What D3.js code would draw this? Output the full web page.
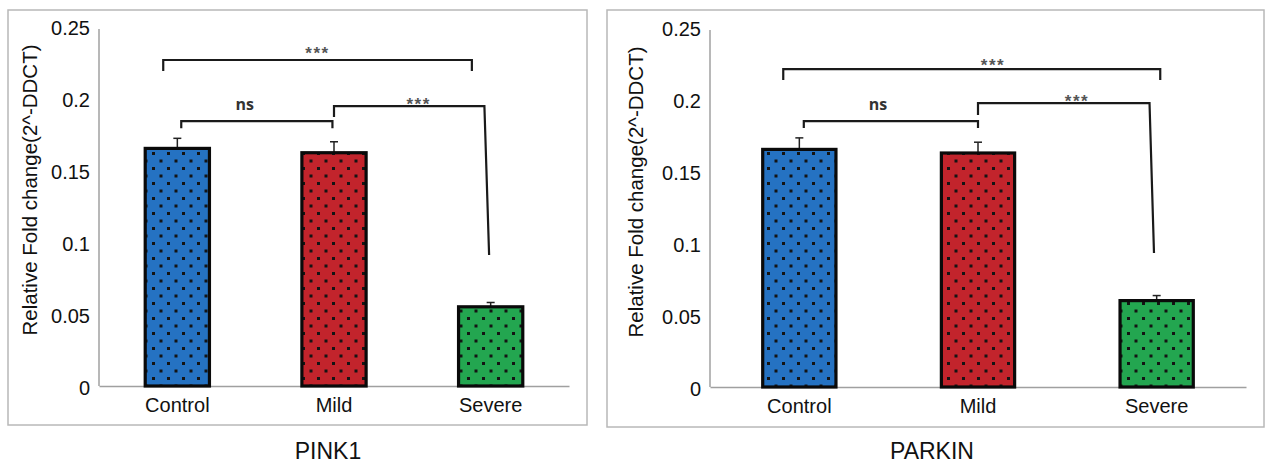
<!DOCTYPE html>
<html>
<head>
<meta charset="utf-8">
<script src="https://cdn.jsdelivr.net/npm/d3@7/dist/d3.min.js"></script>
<style>
  html, body { margin: 0; padding: 0; background: #fff; }
  svg { display: block; font-family: "Liberation Sans", Arial, sans-serif; }
  .tick text { font-size: 20px; font-family: "Liberation Sans", Arial, sans-serif; fill: #111; }
</style>
</head>
<body>
<svg id="chart" width="1266" height="465"></svg>
<script>
// ---- data ----
const categories = ["Control", "Mild", "Severe"];
const tickValues = [0, 0.05, 0.1, 0.15, 0.2, 0.25];
const tickLabels = ["0", "0.05", "0.1", "0.15", "0.2", "0.25"];

const pink1Means = [0.165, 0.162, 0.055];
const pink1Errors = [0.007, 0.0076, 0.003];
const parkinMeans = [0.165, 0.1625, 0.060];
const parkinErrors = [0.008, 0.0075, 0.0035];

// significance brackets: x in category-index units, y in fold-change units
// [xLeft, xRight, yTop, yLeftEnd, yRightEnd, xRightEnd, label, labelX]
const pink1Brackets = [
  [-0.09, 1.88, 0.2264, 0.2188, 0.2188, 1.88, "***", 0.895],
  [0.025, 0.99, 0.184, 0.179, 0.179, 0.99, "ns", 0.43],
  [1.0, 1.96, 0.1944, 0.1868, 0.091, 1.99, "***", 1.54]
];
const parkinBrackets = [
  [-0.09, 2.02, 0.2208, 0.2132, 0.2132, 2.02, "***", 1.084],
  [0.025, 1.0, 0.1847, 0.1799, 0.1799, 1.0, "ns", 0.44],
  [1.0, 1.96, 0.1972, 0.1889, 0.093, 1.985, "***", 1.554]
];

const barColors = ["#2572c2", "#c2242c", "#23a650"];
const yTitle = "Relative Fold change(2^-DDCT)";

const svg = d3.select("#chart");
const defs = svg.append("defs");

// dotted fills
barColors.forEach((c, i) => {
  const p = defs.append("pattern")
    .attr("id", "dots" + i)
    .attr("patternUnits", "userSpaceOnUse")
    .attr("width", 15).attr("height", 15);
  p.append("rect").attr("width", 15).attr("height", 15).attr("fill", c);
  [[2, 2], [9.5, 9.5]].forEach(([x, y]) => {
    p.append("rect").attr("x", x).attr("y", y)
      .attr("width", 3).attr("height", 3).attr("fill", "#141414");
  });
});

function drawPanel(cfg) {
  const g = svg.append("g");

  // panel frame
  g.append("rect")
    .attr("x", cfg.frame[0]).attr("y", cfg.frame[1])
    .attr("width", cfg.frame[2] - cfg.frame[0])
    .attr("height", cfg.frame[3] - cfg.frame[1])
    .attr("fill", "none").attr("stroke", "#b8b8b8").attr("stroke-width", 1.5);

  const y = d3.scaleLinear().domain([0, 0.25]).range([cfg.y0, cfg.y0 - 360]);
  const xb = d3.scaleBand().domain(categories).range([cfg.x0, cfg.x1])
    .paddingInner(0.59).paddingOuter(0.295);
  const xi = d3.scaleLinear().domain([-0.5, 2.5]).range([cfg.x0, cfg.x1]);

  // y axis
  const yAxis = d3.axisLeft(y).tickValues(tickValues)
    .tickFormat((d, i) => tickLabels[i]).tickSize(0).tickPadding(9);
  const ya = g.append("g").attr("transform", `translate(${cfg.x0},0)`).call(yAxis);
  ya.select(".domain").attr("stroke", "#a0a0a0").attr("stroke-width", 1.5)
    .attr("d", `M0,${cfg.y0}V${y(0.25) + 3}`);
  ya.selectAll("text").attr("dy", "0.4em");

  // x baseline + category labels
  const xAxis = d3.axisBottom(xb).tickSize(0).tickPadding(12);
  const xa = g.append("g").attr("transform", `translate(0,${cfg.y0})`).call(xAxis);
  xa.select(".domain").attr("stroke", "#a0a0a0").attr("stroke-width", 1.5);

  // y title
  g.append("text")
    .attr("transform", `translate(${cfg.titleX},${cfg.titleY}) rotate(-90)`)
    .attr("text-anchor", "middle").attr("font-size", 20.5).attr("fill", "#111")
    .text(yTitle);

  // error bars
  categories.forEach((c, i) => {
    const cx = xb(c) + xb.bandwidth() / 2;
    const top = y(cfg.means[i] + cfg.errors[i]);
    g.append("line").attr("x1", cx).attr("x2", cx)
      .attr("y1", y(cfg.means[i])).attr("y2", top)
      .attr("stroke", "#222").attr("stroke-width", 1.5);
    g.append("line").attr("x1", cx - 4).attr("x2", cx + 4)
      .attr("y1", top).attr("y2", top)
      .attr("stroke", "#222").attr("stroke-width", 1.5);
  });

  // bars
  g.selectAll("rect.bar").data(cfg.means).join("rect")
    .attr("class", "bar")
    .attr("x", (d, i) => xb(categories[i]))
    .attr("y", d => y(d))
    .attr("width", xb.bandwidth())
    .attr("height", d => cfg.y0 - y(d))
    .attr("fill", (d, i) => `url(#dots${i})`)
    .attr("stroke", "#0a0a0a").attr("stroke-width", 3.2);

  // significance brackets
  cfg.brackets.forEach(b => {
    const [xl, xr, yt, yle, yre, xre, label, lx] = b;
    const path = d3.path();
    path.moveTo(xi(xl), y(yle));
    path.lineTo(xi(xl), y(yt));
    path.lineTo(xi(xr), y(yt));
    path.lineTo(xi(xre), y(yre));
    g.append("path").attr("d", path.toString())
      .attr("fill", "none").attr("stroke", "#1a1a1a").attr("stroke-width", 2.2);
    if (label === "ns") {
      g.append("text").attr("x", xi(lx)).attr("y", y(yt) - 11)
        .attr("text-anchor", "middle").attr("font-size", 16).attr("font-weight", "bold")
        .attr("fill", "#333").attr("font-family", "Open Sans, DejaVu Sans, sans-serif")
        .text(label);
    } else {
      g.append("text").attr("x", xi(lx)).attr("y", y(yt) + 5 - cfg.starGap(b))
        .attr("text-anchor", "middle").attr("font-size", 17).attr("font-weight", "bold")
        .attr("letter-spacing", 1.5).attr("fill", "#555")
        .text(label);
    }
  });

  // gene name
  g.append("text").attr("x", cfg.nameX).attr("y", 459)
    .attr("text-anchor", "middle").attr("font-size", 23).attr("fill", "#111")
    .text(cfg.name);
}

drawPanel({
  frame: [8, 10, 587, 425], x0: 99, x1: 569, y0: 386,
  means: pink1Means, errors: pink1Errors, brackets: pink1Brackets,
  titleX: 37, titleY: 190, name: "PINK1", nameX: 328,
  starGap: b => (b[0] < 0 ? 6 : 1)
});
drawPanel({
  frame: [607, 10, 1264, 427], x0: 710, x1: 1246, y0: 387,
  means: parkinMeans, errors: parkinErrors, brackets: parkinBrackets,
  titleX: 643, titleY: 192, name: "PARKIN", nameX: 932,
  starGap: b => (b[0] < 0 ? 3 : 1)
});
</script>
</body>
</html>
